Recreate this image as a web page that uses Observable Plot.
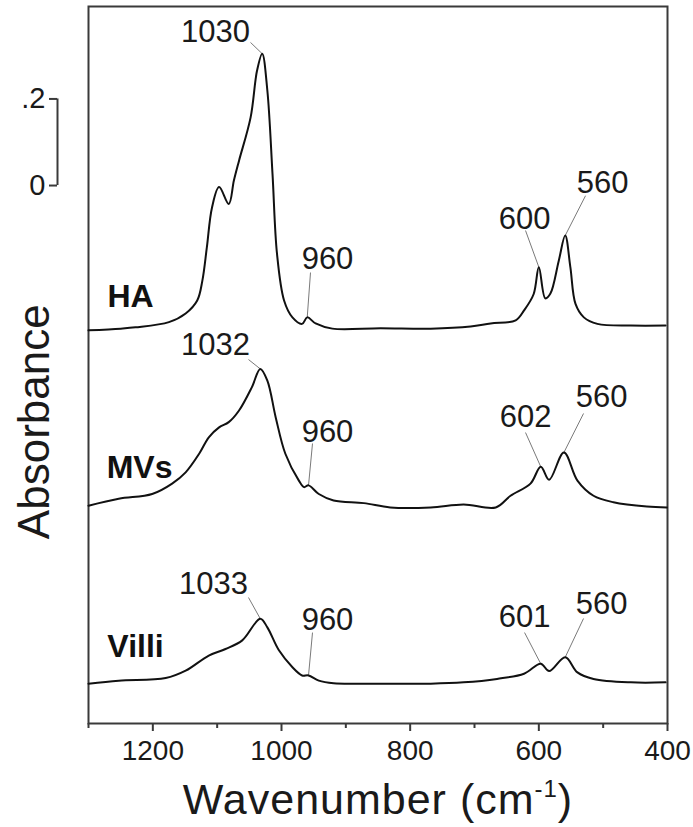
<!DOCTYPE html>
<html><head><meta charset="utf-8">
<script src="https://cdn.jsdelivr.net/npm/d3@7"></script>
<script src="https://cdn.jsdelivr.net/npm/@observablehq/plot@0.6"></script>
<style>
body{margin:0;background:#fff}
</style>
</head><body><div id="chart"></div>
<script>
// ---- data (absorbance above each trace's own baseline) ----
const seriesNames = ["HA", "MVs", "Villi"];
const seriesOffsets = [0.90, 0.49, 0.09];

const haWave = [1300,1250,1227,1175,1149,1131,1123,1116,1108,1097,1082,1074,1066,1048,1038,1030,1022,1014,1007,996,983,968,960,947,921,846,768,706,675,636,623,608,600,590,582,569,559,551,543,530,509,457,403];
const haAbs  = [0.008,0.012,0.015,0.027,0.047,0.077,0.123,0.200,0.292,0.339,0.300,0.354,0.400,0.500,0.608,0.647,0.562,0.370,0.185,0.077,0.038,0.023,0.038,0.024,0.012,0.013,0.012,0.017,0.024,0.031,0.054,0.092,0.154,0.082,0.093,0.169,0.227,0.154,0.069,0.038,0.023,0.019,0.019];

const mvWave = [1300,1253,1201,1170,1149,1128,1113,1097,1082,1066,1046,1033,1022,1009,994,973,965,958,942,919,872,831,768,717,667,644,613,597,584,561,540,515,484,432,401];
const mvAbs  = [0.013,0.029,0.040,0.064,0.090,0.133,0.171,0.194,0.206,0.233,0.287,0.329,0.302,0.217,0.133,0.071,0.056,0.060,0.040,0.025,0.019,0.009,0.009,0.016,0.009,0.036,0.064,0.103,0.073,0.136,0.071,0.036,0.021,0.011,0.009];

const villiWave = [1300,1253,1180,1149,1113,1087,1061,1033,1022,1004,983,968,958,942,919,872,768,717,665,623,597,584,559,540,515,457,403];
const villiAbs  = [0.002,0.009,0.015,0.032,0.067,0.082,0.102,0.152,0.132,0.079,0.040,0.021,0.021,0.009,0.003,0.002,0.002,0.005,0.013,0.025,0.048,0.031,0.063,0.028,0.013,0.005,0.005];

const majorTicks = [1200, 1000, 800, 600, 400];
const minorTicks = [1300, 1100, 900, 700, 500];

// peak annotations
const peakLabels = ["1030","960","600","560","1032","960","602","560","1033","960","601","560"];
const peakSeries = ["HA","HA","HA","HA","MVs","MVs","MVs","MVs","Villi","Villi","Villi","Villi"];
const peakWave   = [1030,960,600,559,1033,958,597,561,1033,958,597,559];

// scale bar
const scaleBarLabels = ["0", ".2"];
const scaleBarValues = [0, 0.2];

// ---- layout of annotations (data units) ----
const xDomain = [1300, 400];
const yDomain = [0, 1.656];
const labelWave = [1102.6, 928.5, 622.2, 501.0, 1102.6, 928.5, 620.7, 502.5, 1105.7, 928.5, 622.2, 502.5];
const labelY    = [1.598, 1.0716, 1.166, 1.249, 0.873, 0.674, 0.7067, 0.7529, 0.321, 0.238, 0.2448, 0.2748];
const leadWave  = [1048.2, 954.9, 620.7, 527.4, 1051.3, 951.8, 620.7, 530.5, 1051.3, 951.8, 622.2, 530.5];
const leadY     = [1.573, 1.0416, 1.1386, 1.219, 0.8406, 0.6467, 0.672, 0.716, 0.291, 0.210, 0.210, 0.2425];
const seriesLabelWave = [1234.7, 1220.7, 1226.9];
const seriesLabelY = [0.986, 0.591, 0.178];
const scaleBarBase = 1.2425;

// ---- build tables ----
const spectra = [[haWave, haAbs], [mvWave, mvAbs], [villiWave, villiAbs]];
const rows = [];
spectra.forEach(([W, A], si) => {
  W.forEach((w, i) => rows.push({series: seriesNames[si], w, y: seriesOffsets[si] + A[i]}));
});
function valueAt(si, w) {
  const [W, A] = spectra[si];
  for (let i = 0; i < W.length - 1; i++) {
    if (w <= W[i] && w >= W[i + 1]) {
      const t = (W[i] - w) / (W[i] - W[i + 1]);
      return seriesOffsets[si] + A[i] + t * (A[i + 1] - A[i]);
    }
  }
  return seriesOffsets[si];
}
const ann = peakLabels.map((label, i) => {
  const si = seriesNames.indexOf(peakSeries[i]);
  return {label, tx: labelWave[i], ty: labelY[i], lx: leadWave[i], ly: leadY[i], px: peakWave[i], py: valueAt(si, peakWave[i])};
});
const seriesRows = seriesNames.map((s, i) => ({s, x: seriesLabelWave[i], y: seriesLabelY[i]}));
const sbTicks = scaleBarValues.map(v => scaleBarBase + v);

const axisColor = "#3a3a3a";
const plot = Plot.plot({
  width: 693, height: 827,
  marginLeft: 88, marginRight: 26, marginTop: 6, marginBottom: 104,
  style: {fontFamily: "'Liberation Sans', Arial, sans-serif", background: "#fff", color: "#1a1a1a"},
  x: {domain: xDomain},
  y: {domain: yDomain},
  marks: [
    Plot.axisX(minorTicks, {tickSize: 5, fill: "none", label: null, stroke: axisColor, strokeWidth: 2}),
    Plot.axisX(majorTicks, {tickSize: 8, tickPadding: 9, fontSize: 28, label: null, stroke: axisColor, strokeWidth: 2, fill: "#1a1a1a",
      tickFormat: d => String(d)}),
    Plot.axisY(sbTicks, {anchor: "left", dx: -31, tickSize: 8, tickPadding: 4, fontSize: 29, label: null,
      stroke: axisColor, strokeWidth: 2, fill: "#1a1a1a",
      tickFormat: d => scaleBarLabels[sbTicks.indexOf(d)]}),
    Plot.ruleX([xDomain[0]], {y1: sbTicks[0], y2: sbTicks[1], dx: -31, stroke: axisColor, strokeWidth: 2}),
    Plot.frame({stroke: axisColor, strokeWidth: 2}),
    Plot.link(ann, {x1: "lx", y1: "ly", x2: "px", y2: "py", stroke: "#7a7a7a", strokeWidth: 1}),
    Plot.line(rows, {x: "w", y: "y", z: "series", stroke: "#111", strokeWidth: 2, curve: "catmull-rom"}),
    Plot.text(ann, {x: "tx", y: "ty", text: "label", fontSize: 31, fill: "#1a1a1a"}),
    Plot.text(seriesRows, {x: "x", y: "y", text: "s", fontSize: 32, fontWeight: "bold", fill: "#111"}),
    Plot.text([{t: "Absorbance"}], {text: "t", frameAnchor: "left", textAnchor: "middle", y: () => 0.697, rotate: -90, dx: -54, fontSize: 44, fill: "#1a1a1a"}),
    Plot.text([{t: "Wavenumber (cm-1)"}], {text: "t", frameAnchor: "bottom", textAnchor: "middle", dy: 77, fontSize: 43, fill: "#1a1a1a", lineAnchor: "middle"})
  ]
});
document.getElementById("chart").appendChild(plot);

// superscript for cm-1
d3.select(plot).selectAll("text").each(function() {
  if (this.textContent === "Wavenumber (cm-1)") {
    const t = d3.select(this);
    t.text(null).attr("letter-spacing", 1);
    t.append("tspan").text("Wavenumber (cm");
    t.append("tspan").attr("font-size", 24).attr("dy", -17).text("-1");
    t.append("tspan").attr("dy", 17).text(")");
  }
});
</script>
</body></html>
